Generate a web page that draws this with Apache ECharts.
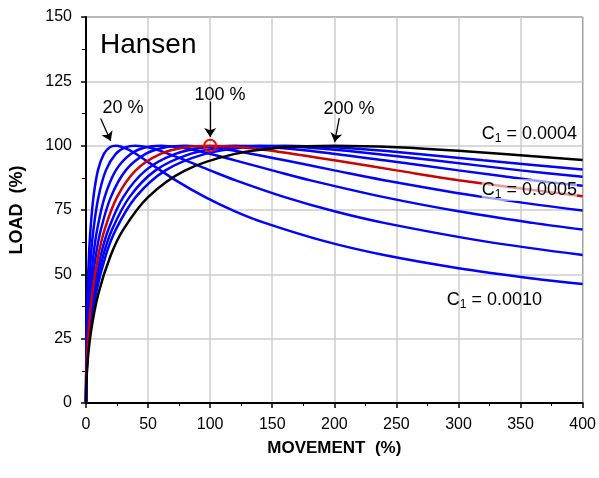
<!DOCTYPE html>
<html>
<head>
<meta charset="utf-8">
<script src="https://cdn.jsdelivr.net/npm/echarts@6/dist/echarts.min.js"></script>
<style>
  html, body { margin: 0; padding: 0; background: #fff; }
  #chartmain { width: 599px; height: 478px; }
</style>
</head>
<body>
<div id="chartmain"></div>
<script>
// axis ticks
var xTicks = [0, 400, 50];
var yTicks = [0, 150, 25];

// load-movement curves [movement %, load %], named by peak position
var peak20 = [[0, 0], [0.12, 14.1], [0.48, 27.7], [1.2, 42.6], [2.4, 57.5], [3.6, 67.4], [6, 80], [9.6, 90.4],
  [14.4, 96.8], [19.2, 99.4], [24, 100], [36, 98], [48, 94.3], [72, 86.6], [96, 80], [120, 74.5],
  [144, 70], [192, 62.9], [240, 57.5], [300, 52.4], [360, 48.4], [400, 46.2]];
var peak40 = [[0, 0], [0.2, 14.1], [0.8, 27.7], [2, 42.6], [4, 57.5], [6, 67.4], [10, 80], [16, 90.4],
  [24, 96.8], [32, 99.4], [40, 100], [50, 99.4], [60, 98], [80, 94.3], [100, 90.4], [120, 86.6],
  [160, 80], [200, 74.5], [240, 70], [320, 62.9], [400, 57.5]];
var peak60 = [[0, 0], [0.3, 14.1], [1.2, 27.7], [3, 42.6], [6, 57.5], [9, 67.4], [15, 80], [24, 90.4],
  [36, 96.8], [48, 99.4], [60, 100], [75, 99.4], [90, 98], [120, 94.3], [150, 90.4], [180, 86.6],
  [240, 80], [300, 74.5], [360, 70], [400, 67.4]];
var peak80 = [[0, 0], [0.4, 14.1], [1.6, 27.7], [4, 42.6], [8, 57.5], [12, 67.4], [20, 80], [32, 90.4],
  [48, 96.8], [64, 99.4], [80, 100], [100, 99.4], [120, 98], [160, 94.3], [200, 90.4], [240, 86.6],
  [320, 80], [400, 74.8]];
var peak100 = [[0, 0], [0.5, 14.1], [2, 27.7], [5, 42.6], [10, 57.5], [15, 67.4], [25, 80], [40, 90.4],
  [60, 96.8], [80, 99.4], [100, 100], [125, 99.4], [150, 98], [200, 94.3], [250, 90.4], [300, 86.6],
  [400, 80.3]];
var peak120 = [[0, 0], [0.6, 14.1], [2.4, 27.7], [6, 42.6], [12, 57.5], [18, 67.4], [30, 80], [48, 90.4],
  [72, 96.8], [96, 99.4], [120, 100], [150, 99.4], [180, 98], [240, 94.3], [300, 90.4], [360, 86.6],
  [400, 84.4]];
var peak140 = [[0, 0], [0.7, 14.1], [2.8, 27.7], [7, 42.6], [14, 57.5], [21, 67.4], [35, 80], [56, 90.4],
  [84, 96.8], [112, 99.4], [140, 100], [175, 99.4], [210, 98], [280, 94.3], [350, 90.4], [400, 87.9]];
var peak160 = [[0, 0], [0.8, 14.1], [3.2, 27.7], [8, 42.6], [16, 57.5], [24, 67.4], [40, 80], [64, 90.4],
  [96, 96.8], [128, 99.4], [160, 100], [200, 99.4], [240, 98], [320, 94.3], [400, 90.7]];
var peak200 = [[0, 0], [1, 14.1], [4, 27.7], [10, 42.6], [20, 57.5], [30, 67.4], [50, 80], [80, 90.4],
  [120, 96.8], [160, 99.4], [200, 100], [250, 99.4], [300, 98], [400, 94.4]];

var blueCurves = [peak20, peak40, peak60, peak80, peak120, peak140, peak160];

// arrows pointing at the 20 %, 100 % and 200 % peaks
var arrows = [
  [[11.8, 110.6], [19.9, 101.8]],
  [[100, 117.2], [100, 103.4]],
  [[204, 110.7], [200.2, 101.4]]
];

function curve(data, color) {
  return {
    type: "line",
    data: data,
    showSymbol: false,
    smooth: 0.35,
    silent: true,
    lineStyle: { color: color, width: 2.5 }
  };
}

var series = [];
for (var i = 0; i < blueCurves.length; i++) {
  series.push(curve(blueCurves[i], "#0000ff"));
}
var red = curve(peak100, "#cc0000");
red.markPoint = {
  silent: true,
  symbol: "circle",
  symbolSize: 12,
  label: { show: false },
  itemStyle: { color: "rgba(0,0,0,0)", borderColor: "#ff0000", borderWidth: 2 },
  data: [{ coord: [100, 100] }]
};
series.push(red);
var black = curve(peak200, "#000000");
black.markLine = {
  silent: true,
  animation: false,
  symbol: ["none", "arrow"],
  symbolSize: 9,
  label: { show: false },
  lineStyle: { color: "#000", width: 1.3, type: "solid" },
  data: arrows.map(function(a) {
    return [{ coord: a[0] }, { coord: a[1] }];
  })
};
series.push(black);

var txt = "Liberation Sans, Arial, sans-serif";
function note(text, x, y, align, size, bg) {
  return {
    type: "text",
    x: x,
    y: y,
    z: 100,
    style: {
      text: text,
      font: size + "px " + txt,
      fill: "#000",
      textAlign: align,
      textVerticalAlign: "middle",
      backgroundColor: bg || "transparent",
      rich: {
        s: { fontSize: 12, fontFamily: txt, verticalAlign: "bottom", padding: [10, 0, 0, 0] },
        n: { fontSize: 18, fontFamily: txt }
      }
    }
  };
}

var option = {
  animation: false,
  grid: { left: 86, top: 17, right: 16, bottom: 75, show: true, borderColor: "#000", borderWidth: 1 },
  xAxis: {
    type: "value",
    min: xTicks[0],
    max: xTicks[1],
    interval: xTicks[2],
    name: "MOVEMENT  (%)",
    nameLocation: "middle",
    nameGap: 37,
    nameTextStyle: { fontFamily: txt, fontSize: 17, fontWeight: "bold", color: "#000" },
    axisLine: { lineStyle: { color: "#000", width: 2 } },
    axisTick: { length: 5, lineStyle: { color: "#000", width: 1.5 } },
    minorTick: { show: true, splitNumber: 2, length: 3, lineStyle: { color: "#000" } },
    axisLabel: { fontFamily: txt, fontSize: 16, color: "#000", margin: 14 },
    splitLine: { lineStyle: { color: "#cccccc", width: 1.5 } }
  },
  yAxis: {
    type: "value",
    min: yTicks[0],
    max: yTicks[1],
    interval: yTicks[2],
    name: "LOAD  (%)",
    nameLocation: "middle",
    nameGap: 60,
    nameTextStyle: { fontFamily: txt, fontSize: 18, fontWeight: "bold", color: "#000" },
    axisLine: { lineStyle: { color: "#000", width: 2 } },
    axisTick: { length: 5, lineStyle: { color: "#000", width: 1.5 } },
    minorTick: { show: true, splitNumber: 2, length: 4, lineStyle: { color: "#000" } },
    axisLabel: { fontFamily: txt, fontSize: 16, color: "#000", margin: 14 },
    splitLine: { lineStyle: { color: "#cccccc", width: 1.5 } }
  },
  series: series,
  graphic: [
    note("Hansen", 100, 45, "left", 28),
    note("20 %", 123, 108, "center", 18),
    note("100 %", 220, 95, "center", 18),
    note("200 %", 349, 109, "center", 18),
    note("{n|C}{s|1}{n| = 0.0004}", 577, 134, "right", 18),
    note("{n|C}{s|1}{n| = 0.0005}", 577, 190, "right", 18, "rgba(255,255,255,0.6)"),
    note("{n|C}{s|1}{n| = 0.0010}", 542, 300, "right", 18)
  ]
};

var myChart = echarts.init(document.getElementById("chartmain"));
myChart.setOption(option);
</script>
</body>
</html>
